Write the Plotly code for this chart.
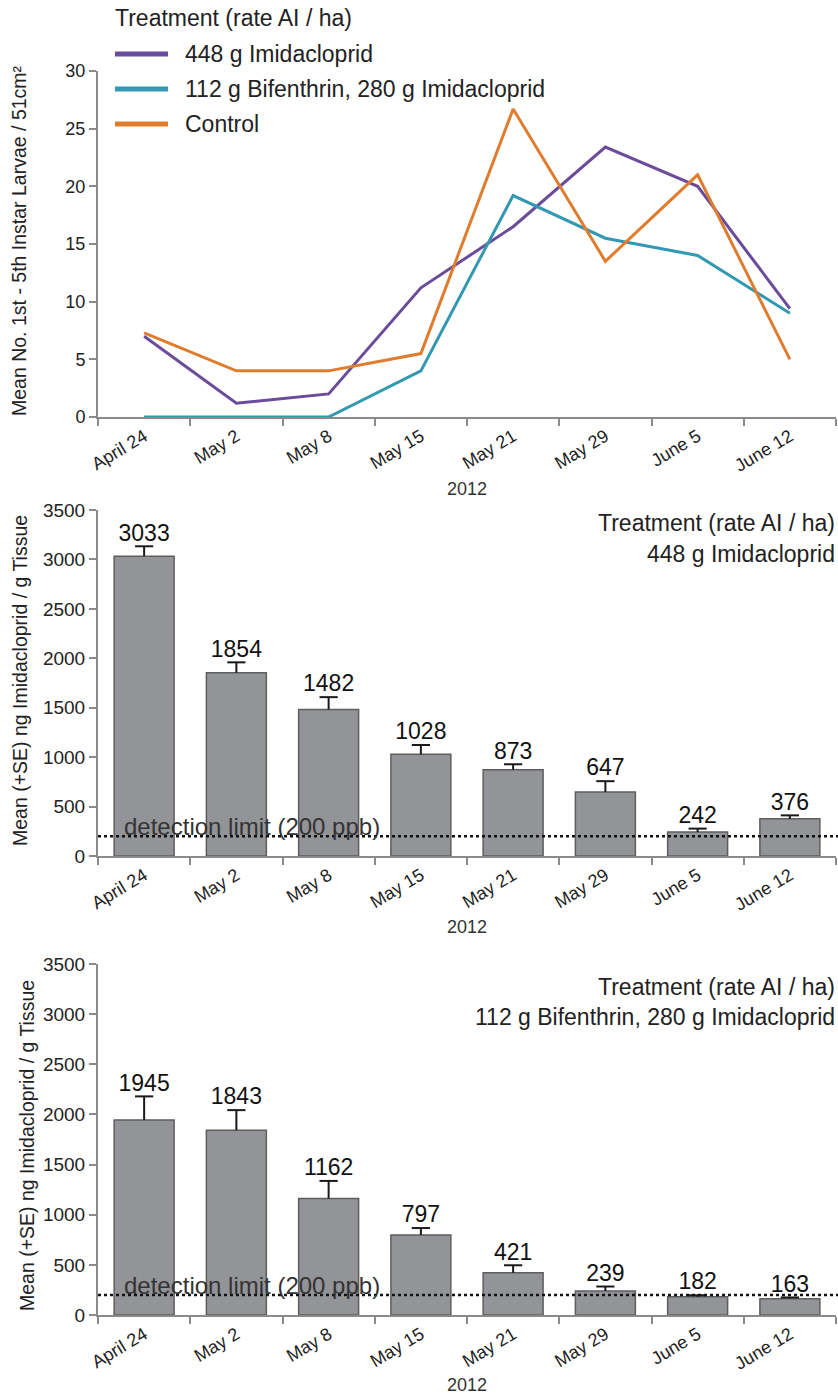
import plotly.graph_objects as go

# ---- data -------------------------------------------------------------
DATES = ["April 24", "May 2", "May 8", "May 15", "May 21", "May 29", "June 5", "June 12"]
YEAR = "2012"
TREATMENTS = ["448 g Imidacloprid", "112 g Bifenthrin, 280 g Imidacloprid", "Control"]
LEGEND_TITLE = "Treatment (rate AI / ha)"

# mean larvae per sample, by treatment
LARVAE_IMI448 = [7.0, 1.2, 2.0, 11.2, 16.5, 23.4, 20.0, 9.4]
LARVAE_BIF_IMI = [0.0, 0.0, 0.0, 4.0, 19.2, 15.5, 14.0, 9.0]
LARVAE_CONTROL = [7.3, 4.0, 4.0, 5.5, 26.7, 13.5, 21.0, 5.0]

# imidacloprid residue (ng / g tissue), mean and SE
RESIDUE_IMI448 = [3033, 1854, 1482, 1028, 873, 647, 242, 376]
SE_IMI448 = [100, 105, 125, 95, 55, 110, 35, 35]
RESIDUE_BIF_IMI = [1945, 1843, 1162, 797, 421, 239, 182, 163]
SE_BIF_IMI = [235, 200, 175, 70, 75, 45, 15, 12]
DETECTION_LIMIT = 200
DETECTION_TEXT = "detection limit (200 ppb)"

# ---- styling ----------------------------------------------------------
W, H = 838, 1397
FONT = "Liberation Sans, Arial, sans-serif"
LINE_COLORS = ["#6B4C9A", "#3399B3", "#E07C2E"]
AXIS_GRAY = "#8a8a8a"
BAR_FILL = "#939498"
BAR_EDGE = "#5e5e5e"
TEXT = "#222222"
ERR = "#1a1a1a"


def px_x(p):
    return p / W


def px_y(p):
    return 1 - p / H


X_DOMAIN = [px_x(98), px_x(836)]

fig = go.Figure()

# ---- larvae lines -----------------------------------------------------
for name, vals, col in zip(TREATMENTS, [LARVAE_IMI448, LARVAE_BIF_IMI, LARVAE_CONTROL], LINE_COLORS):
    fig.add_trace(go.Scatter(x=DATES, y=vals, mode="lines", name=name,
                             line=dict(color=col, width=3), xaxis="x", yaxis="y",
                             showlegend=False, cliponaxis=False))

# ---- residue bars (mean + upward SE) ----------------------------------
for k, (vals, se) in enumerate([(RESIDUE_IMI448, SE_IMI448), (RESIDUE_BIF_IMI, SE_BIF_IMI)]):
    xa = "x%d" % (k + 2)
    ya = "y%d" % (k + 2)
    tops = [v + s for v, s in zip(vals, se)]
    fig.add_trace(go.Bar(x=DATES, y=vals, width=0.65, xaxis=xa, yaxis=ya,
                         marker=dict(color=BAR_FILL, line=dict(color=BAR_EDGE, width=1.5)),
                         error_y=dict(type="data", array=se, arrayminus=[0] * len(se),
                                      symmetric=False, color=ERR, thickness=2, width=0),
                         showlegend=False))
    # cap of each SE whisker
    fig.add_trace(go.Scatter(x=DATES, y=tops, mode="markers",
                             marker=dict(symbol="line-ew", size=13, color=ERR,
                                         line=dict(color=ERR, width=2)),
                             xaxis=xa, yaxis=ya, showlegend=False, cliponaxis=False))
    # mean value written above the whisker
    fig.add_trace(go.Scatter(x=DATES, y=tops, mode="text",
                             text=[str(v) for v in vals], textposition="top center",
                             textfont=dict(family=FONT, size=23, color="#111111"),
                             xaxis=xa, yaxis=ya, showlegend=False, cliponaxis=False))

# ---- axes -------------------------------------------------------------
common_x = dict(type="category", categoryorder="array", categoryarray=DATES,
                range=[-0.5, len(DATES) - 0.5], tickson="boundaries",
                ticks="outside", ticklen=7, tickwidth=2, tickcolor=AXIS_GRAY,
                showline=True, linecolor=AXIS_GRAY, linewidth=2, showgrid=False,
                zeroline=False, tickangle=-31, automargin=False,
                tickfont=dict(family=FONT, size=18, color=TEXT), domain=X_DOMAIN)
common_y = dict(ticks="outside", ticklen=7, tickwidth=2, tickcolor=AXIS_GRAY,
                showline=True, linecolor=AXIS_GRAY, linewidth=2, showgrid=False,
                zeroline=False, automargin=False)

fig.update_layout(
    xaxis=dict(common_x, anchor="y"),
    yaxis=dict(common_y, range=[0, 30], dtick=5, anchor="x",
               domain=[px_y(417), px_y(71)],
               tickfont=dict(family=FONT, size=18, color=TEXT)),
    xaxis2=dict(common_x, anchor="y2"),
    yaxis2=dict(common_y, range=[0, 3500], dtick=500, anchor="x2",
                domain=[px_y(856), px_y(510)],
                tickfont=dict(family=FONT, size=19, color=TEXT)),
    xaxis3=dict(common_x, anchor="y3"),
    yaxis3=dict(common_y, range=[0, 3500], dtick=500, anchor="x3",
                domain=[px_y(1315), px_y(964)],
                tickfont=dict(family=FONT, size=19, color=TEXT)),
)

annotations = []
shapes = []

# detection limit lines + text
for k in (2, 3):
    shapes.append(dict(type="line", xref="x%d domain" % k, yref="y%d" % k,
                       x0=0, x1=1.003, y0=DETECTION_LIMIT, y1=DETECTION_LIMIT,
                       line=dict(color="#111111", width=2.5, dash="dot")))
    annotations.append(dict(xref="paper", yref="y%d" % k, x=px_x(122), y=DETECTION_LIMIT,
                            text=DETECTION_TEXT, showarrow=False, xanchor="left",
                            yanchor="bottom", yshift=-6,
                            font=dict(family=FONT, size=24, color="#333333")))

# year labels under the date axes
for ypix in (489, 927, 1385):
    annotations.append(dict(xref="paper", yref="paper", x=px_x(467), y=px_y(ypix),
                            text=YEAR, showarrow=False, xanchor="center", yanchor="middle",
                            font=dict(family=FONT, size=18, color="#333333")))

# y-axis titles
annotations.append(dict(xref="paper", yref="paper", x=px_x(19), y=px_y(241),
                        text="Mean No. 1st - 5th Instar Larvae / 51cm²", textangle=-90,
                        showarrow=False, xanchor="center", yanchor="middle",
                        font=dict(family=FONT, size=19.5, color=TEXT)))
annotations.append(dict(xref="paper", yref="paper", x=px_x(20), y=px_y(681),
                        text="Mean (+SE) ng Imidacloprid / g Tissue", textangle=-90,
                        showarrow=False, xanchor="center", yanchor="middle",
                        font=dict(family=FONT, size=19.5, color=TEXT)))
annotations.append(dict(xref="paper", yref="paper", x=px_x(27), y=px_y(1146),
                        text="Mean (+SE) ng Imidacloprid / g Tissue", textangle=-90,
                        showarrow=False, xanchor="center", yanchor="middle",
                        font=dict(family=FONT, size=19.5, color=TEXT)))

# treatment captions on the residue panels
for name, y1, y2 in ((TREATMENTS[0], 523, 554), (TREATMENTS[1], 987, 1017)):
    annotations.append(dict(xref="paper", yref="paper", x=px_x(837), y=px_y(y1),
                            text=LEGEND_TITLE, showarrow=False, xanchor="right",
                            yanchor="middle", font=dict(family=FONT, size=23, color=TEXT)))
    annotations.append(dict(xref="paper", yref="paper", x=px_x(837), y=px_y(y2),
                            text=name, showarrow=False, xanchor="right",
                            yanchor="middle", font=dict(family=FONT, size=23, color=TEXT)))

# legend for the larvae panel
annotations.append(dict(xref="paper", yref="paper", x=px_x(113), y=px_y(18),
                        text=LEGEND_TITLE, showarrow=False, xanchor="left", yanchor="middle",
                        font=dict(family=FONT, size=23, color=TEXT)))
for i, (name, col) in enumerate(zip(TREATMENTS, LINE_COLORS)):
    yy = px_y(54 + 35 * i)
    shapes.append(dict(type="line", xref="paper", yref="paper", x0=px_x(115), x1=px_x(168),
                       y0=yy, y1=yy, line=dict(color=col, width=5)))
    annotations.append(dict(xref="paper", yref="paper", x=px_x(183), y=yy, text=name,
                            showarrow=False, xanchor="left", yanchor="middle",
                            font=dict(family=FONT, size=23, color=TEXT)))

fig.update_layout(
    width=W, height=H, margin=dict(l=0, r=0, t=0, b=0),
    paper_bgcolor="white", plot_bgcolor="white",
    font=dict(family=FONT, color=TEXT),
    showlegend=False, bargap=0.35,
    annotations=annotations, shapes=shapes,
)

fig.write_html("out.html")
